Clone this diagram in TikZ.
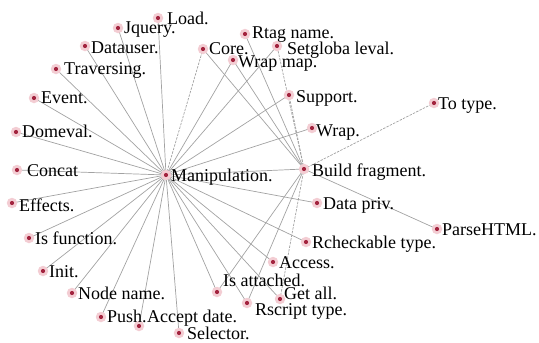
\documentclass[tikz,border=0pt]{standalone}
\usepackage{fontspec}
\setmainfont{Liberation Serif}
\newfontfamily\labelfont{Liberation Serif}
\begin{document}
\begin{tikzpicture}[x=1pt,y=-1pt,
  vert/.style={circle,inner sep=0pt,minimum size=10.5pt,fill=halo,
    path picture={\fill[core] (path picture bounding box.center) circle (2.1pt);}},
  lbl/.style={anchor=base west,inner sep=0pt,font=\labelfont\fontsize{18}{20}\selectfont},
  link/.style={draw=linkgray,line width=0.7pt},
  dlink/.style={link,dash pattern=on 2.5pt off 1.2pt}]
\definecolor{halo}{HTML}{F3CDD3}
\definecolor{core}{HTML}{A3243F}
\definecolor{linkgray}{HTML}{A2A2A2}
\useasboundingbox (0,0) rectangle (539,343);

% hubs
\coordinate (manip) at (166,175);
\coordinate (build) at (304,169);

% leaf positions
\coordinate (load) at (158,18);
\coordinate (jquery) at (118,28);
\coordinate (datauser) at (85,46);
\coordinate (travers) at (56,69);
\coordinate (event) at (34,98);
\coordinate (domeval) at (16,132);
\coordinate (concat) at (17,170);
\coordinate (effects) at (12,203);
\coordinate (isfunc) at (29,238);
\coordinate (init) at (43,271);
\coordinate (nodename) at (72,293);
\coordinate (push) at (101,317);
\coordinate (accept) at (139,326);
\coordinate (selector) at (179,333);
\coordinate (core) at (203,49);
\coordinate (rtag) at (245,34);
\coordinate (wrapmap) at (233,60);
\coordinate (setglob) at (277,46);
\coordinate (support) at (289,95);
\coordinate (wrap) at (312,128);
\coordinate (totype) at (434,103);
\coordinate (datapriv) at (317,203);
\coordinate (parse) at (437,229);
\coordinate (rcheck) at (306,242);
\coordinate (access) at (273,262);
\coordinate (getall) at (280,299);
\coordinate (isatt) at (217,292);
\coordinate (rscript) at (247,303);

% links from Manipulation
\foreach \t in {load,jquery,datauser,travers,event,domeval,concat,effects,
  isfunc,init,nodename,push,accept,selector,wrapmap,setglob,support,wrap,
  build,datapriv,rcheck,access,isatt,rscript,getall}
  \draw[link] (manip) -- (\t);
\draw[dlink] (manip) -- (core);

% links from Build fragment
\foreach \t in {core,wrapmap,rtag,parse,isatt,rscript}
  \draw[link] (build) -- (\t);
\foreach \t in {setglob,support,getall,totype}
  \draw[dlink] (build) -- (\t);

% vertices
\foreach \t in {manip,build,load,jquery,datauser,travers,event,domeval,concat,
  effects,isfunc,init,nodename,push,accept,selector,core,rtag,wrapmap,setglob,
  support,wrap,totype,datapriv,parse,rcheck,access,getall,isatt,rscript}
  \node[vert] (v-\t) at (\t) {};

% labels
\node[lbl] (l-manip) at ([shift={(5,6)}]manip) {Manipulation.};
\node[lbl] (l-build) at ([shift={(8,7)}]build) {Build fragment.};
\node[lbl] (l-load) at ([shift={(9,6)}]load) {Load.};
\node[lbl] (l-jquery) at ([shift={(6,5)}]jquery) {Jquery.};
\node[lbl] (l-datauser) at ([shift={(6,7)}]datauser) {Datauser.};
\node[lbl] (l-travers) at ([shift={(8,5)}]travers) {Traversing.};
\node[lbl] (l-event) at ([shift={(7,5)}]event) {Event.};
\node[lbl] (l-domeval) at ([shift={(6,5)}]domeval) {Domeval.};
\node[lbl] (l-concat) at ([shift={(10,6)}]concat) {Concat};
\node[lbl] (l-effects) at ([shift={(7,8)}]effects) {Effects.};
\node[lbl] (l-isfunc) at ([shift={(6,6)}]isfunc) {Is function.};
\node[lbl] (l-init) at ([shift={(6,6)}]init) {Init.};
\node[lbl] (l-nodename) at ([shift={(6,6)}]nodename) {Node name.};
\node[lbl] (l-push) at ([shift={(6,5)}]push) {Push.};
\node[lbl] (l-accept) at ([shift={(8,-4)}]accept) {Accept date.};
\node[lbl] (l-selector) at ([shift={(8,6)}]selector) {Selector.};
\node[lbl] (l-core) at ([shift={(6,5)}]core) {Core.};
\node[lbl] (l-rtag) at ([shift={(7,4)}]rtag) {Rtag name.};
\node[lbl] (l-wrapmap) at ([shift={(5,7)}]wrapmap) {Wrap map.};
\node[lbl] (l-setglob) at ([shift={(10,8)}]setglob) {Setgloba leval.};
\node[lbl] (l-support) at ([shift={(7,7)}]support) {Support.};
\node[lbl] (l-wrap) at ([shift={(4,8)}]wrap) {Wrap.};
\node[lbl] (l-totype) at ([shift={(4,6)}]totype) {To type.};
\node[lbl] (l-datapriv) at ([shift={(6,6)}]datapriv) {Data priv.};
\node[lbl] (l-parse) at ([shift={(5,6)}]parse) {ParseHTML.};
\node[lbl] (l-rcheck) at ([shift={(6,6)}]rcheck) {Rcheckable type.};
\node[lbl] (l-access) at ([shift={(6,6)}]access) {Access.};
\node[lbl] (l-getall) at ([shift={(4,0)}]getall) {Get all.};
\node[lbl] (l-isatt) at ([shift={(6,-6)}]isatt) {Is attached.};
\node[lbl] (l-rscript) at ([shift={(8,12)}]rscript) {Rscript type.};
\end{tikzpicture}
\end{document}
